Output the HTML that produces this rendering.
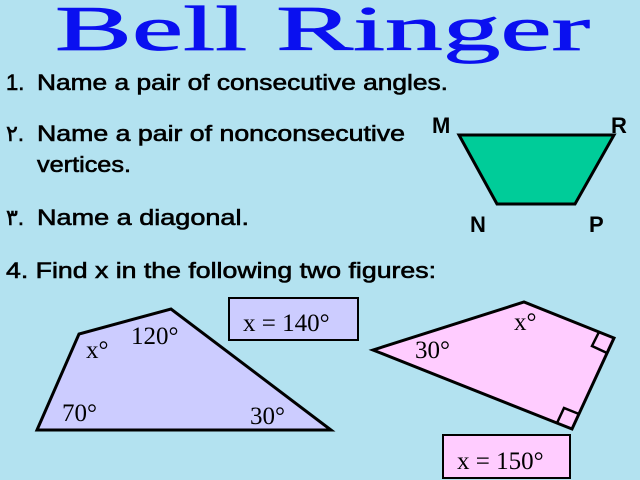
<!DOCTYPE html>
<html><head><meta charset="utf-8"><style>
html,body{margin:0;padding:0;background:#b3e2f0;}
svg{display:block}
</style></head><body>
<svg width="640" height="480" xmlns="http://www.w3.org/2000/svg">
<rect width="640" height="480" fill="#b3e2f0"/>
<text x="55" y="50" font-family="Liberation Serif, serif" font-size="64" fill="#0a10f0" stroke="#0a10f0" stroke-width="0.8" textLength="535" lengthAdjust="spacingAndGlyphs">Bell Ringer</text>
<g font-family="Liberation Sans, DejaVu Sans, sans-serif" font-size="22" fill="#000" stroke="#000" stroke-width="0.6">
<text x="6" y="90">1.</text>
<text x="37" y="90" textLength="411" lengthAdjust="spacingAndGlyphs">Name a pair of consecutive angles.</text>
<text x="6" y="141">٢.</text>
<text x="37" y="141" textLength="368" lengthAdjust="spacingAndGlyphs">Name a pair of nonconsecutive</text>
<text x="37" y="172" textLength="94" lengthAdjust="spacingAndGlyphs">vertices.</text>
<text x="6" y="225">٣.</text>
<text x="37" y="225" textLength="212" lengthAdjust="spacingAndGlyphs">Name a diagonal.</text>
<text x="6" y="278" textLength="430" lengthAdjust="spacingAndGlyphs">4. Find x in the following two figures:</text>
</g>
<polygon points="459,135 614,135 575,204 497,204" fill="#00cc99" stroke="#000" stroke-width="3"/>
<g font-family="Liberation Sans, sans-serif" font-weight="bold" font-size="22" fill="#000">
<text x="432" y="133">M</text><text x="611" y="133">R</text>
<text x="470" y="232">N</text><text x="589" y="232">P</text>
</g>
<polygon points="37,430 79,334 171,309 331,430" fill="#ccccff" stroke="#000" stroke-width="3"/>
<rect x="229" y="298" width="129" height="42" fill="#ccccff" stroke="#000" stroke-width="2"/>
<polygon points="373,350 524,302 614,338 572,429" fill="#ffccff" stroke="#000" stroke-width="3"/>
<polyline points="599,332 592,346 607,353" fill="none" stroke="#000" stroke-width="2.5"/>
<polyline points="557,423 564,408 579,414" fill="none" stroke="#000" stroke-width="2.5"/>
<rect x="443" y="435" width="127" height="43" fill="#ffccff" stroke="#000" stroke-width="2"/>
<g font-family="Liberation Serif, serif" font-size="25" fill="#000">
<text x="86" y="358">x°</text>
<text x="131" y="344">120°</text>
<text x="62" y="421">70°</text>
<text x="250" y="424">30°</text>
<text x="243" y="331">x = 140°</text>
<text x="415" y="358">30°</text>
<text x="514" y="330">x°</text>
<text x="457" y="469">x = 150°</text>
</g>
</svg>
</body></html>
